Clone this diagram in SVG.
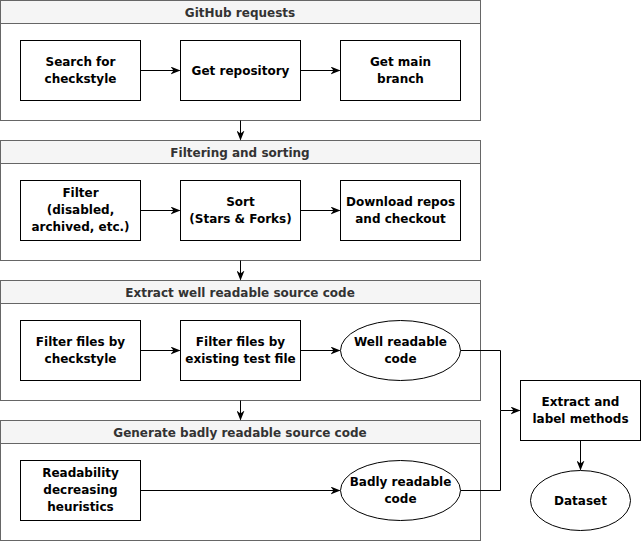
<svg xmlns="http://www.w3.org/2000/svg" width="641" height="541" viewBox="0 0 641 541">
<style>
.cont{fill:#ffffff;stroke:#666666;stroke-width:1}
.hdr{fill:#f5f5f5;stroke:#666666;stroke-width:1}
.ht{font-family:"DejaVu Sans",Verdana,sans-serif;font-weight:bold;font-size:12px;fill:#333333;text-anchor:middle}
.box{fill:#ffffff;stroke:#000000;stroke-width:1}
.t{font-family:"DejaVu Sans",Verdana,sans-serif;font-weight:bold;font-size:12px;fill:#000000;text-anchor:middle}
.c{fill:none;stroke:#000000;stroke-width:1}
</style>
<defs>
<marker id="ah" viewBox="0 0 10 8" refX="9" refY="4" markerWidth="10" markerHeight="8" markerUnits="userSpaceOnUse" orient="auto">
<path d="M0,0 L10,4 L0,8 L3,4 z" fill="#000000"/>
</marker>
</defs>
<rect width="641" height="541" fill="#ffffff"/>
<g id="container-github">
<rect class="cont" x="0.5" y="0.5" width="480" height="120"/>
<rect class="hdr" x="0.5" y="0.5" width="480" height="23"/>
<text class="ht" x="240" y="16.5">GitHub requests</text>
</g>
<g id="container-filtering">
<rect class="cont" x="0.5" y="140.5" width="480" height="120"/>
<rect class="hdr" x="0.5" y="140.5" width="480" height="23"/>
<text class="ht" x="240" y="156.5">Filtering and sorting</text>
</g>
<g id="container-extract">
<rect class="cont" x="0.5" y="280.5" width="480" height="120"/>
<rect class="hdr" x="0.5" y="280.5" width="480" height="23"/>
<text class="ht" x="240" y="296.5">Extract well readable source code</text>
</g>
<g id="container-generate">
<rect class="cont" x="0.5" y="420.5" width="480" height="120"/>
<rect class="hdr" x="0.5" y="420.5" width="480" height="23"/>
<text class="ht" x="240" y="436.5">Generate badly readable source code</text>
</g>
<g id="connectors">
<path class="c" d="M140.5,70.5 H179.5" marker-end="url(#ah)"/>
<path class="c" d="M300.5,70.5 H339.5" marker-end="url(#ah)"/>
<path class="c" d="M140.5,210.5 H179.5" marker-end="url(#ah)"/>
<path class="c" d="M300.5,210.5 H339.5" marker-end="url(#ah)"/>
<path class="c" d="M140.5,350.5 H179.5" marker-end="url(#ah)"/>
<path class="c" d="M300.5,350.5 H339.5" marker-end="url(#ah)"/>
<path class="c" d="M140.5,490.5 H339.5" marker-end="url(#ah)"/>
<path class="c" d="M240.5,120.5 V139.5" marker-end="url(#ah)"/>
<path class="c" d="M240.5,260.5 V279.5" marker-end="url(#ah)"/>
<path class="c" d="M240.5,400.5 V419.5" marker-end="url(#ah)"/>
<path class="c" d="M460.5,350.5 H500.5 V410.5 H519.5" marker-end="url(#ah)"/>
<path class="c" d="M460.5,490.5 H500.5 V410.5"/>
<path class="c" d="M580.5,440.5 V469.5" marker-end="url(#ah)"/>
</g>
<g id="search">
<rect class="box" x="20.5" y="40.5" width="120" height="60"/>
<text class="t" x="80.5" y="66">Search for</text>
<text class="t" x="80.5" y="83">checkstyle</text>
</g>
<g id="get-repository">
<rect class="box" x="180.5" y="40.5" width="120" height="60"/>
<text class="t" x="240.5" y="75">Get repository</text>
</g>
<g id="get-main-branch">
<rect class="box" x="340.5" y="40.5" width="120" height="60"/>
<text class="t" x="400.5" y="66">Get main</text>
<text class="t" x="400.5" y="83">branch</text>
</g>
<g id="filter">
<rect class="box" x="20.5" y="180.5" width="120" height="60"/>
<text class="t" x="80.5" y="197">Filter</text>
<text class="t" x="80.5" y="214">(disabled,</text>
<text class="t" x="80.5" y="231">archived, etc.)</text>
</g>
<g id="sort">
<rect class="box" x="180.5" y="180.5" width="120" height="60"/>
<text class="t" x="240.5" y="206">Sort</text>
<text class="t" x="240.5" y="223">(Stars &amp; Forks)</text>
</g>
<g id="download">
<rect class="box" x="340.5" y="180.5" width="120" height="60"/>
<text class="t" x="400.5" y="206">Download repos</text>
<text class="t" x="400.5" y="223">and checkout</text>
</g>
<g id="filter-checkstyle">
<rect class="box" x="20.5" y="320.5" width="120" height="60"/>
<text class="t" x="80.5" y="346">Filter files by</text>
<text class="t" x="80.5" y="363">checkstyle</text>
</g>
<g id="filter-test">
<rect class="box" x="180.5" y="320.5" width="120" height="60"/>
<text class="t" x="240.5" y="346">Filter files by</text>
<text class="t" x="240.5" y="363">existing test file</text>
</g>
<g id="well-readable">
<ellipse class="box" cx="400.5" cy="350.5" rx="60" ry="30"/>
<text class="t" x="400.5" y="346">Well readable</text>
<text class="t" x="400.5" y="363">code</text>
</g>
<g id="heuristics">
<rect class="box" x="20.5" y="460.5" width="120" height="60"/>
<text class="t" x="80.5" y="477">Readability</text>
<text class="t" x="80.5" y="494">decreasing</text>
<text class="t" x="80.5" y="511">heuristics</text>
</g>
<g id="badly-readable">
<ellipse class="box" cx="400.5" cy="490.5" rx="60" ry="30"/>
<text class="t" x="400.5" y="486">Badly readable</text>
<text class="t" x="400.5" y="503">code</text>
</g>
<g id="extract-label">
<rect class="box" x="520.5" y="380.5" width="120" height="60"/>
<text class="t" x="580.5" y="406">Extract and</text>
<text class="t" x="580.5" y="423">label methods</text>
</g>
<g id="dataset">
<ellipse class="box" cx="580.5" cy="500.5" rx="50" ry="30"/>
<text class="t" x="580.5" y="505">Dataset</text>
</g>
</svg>
